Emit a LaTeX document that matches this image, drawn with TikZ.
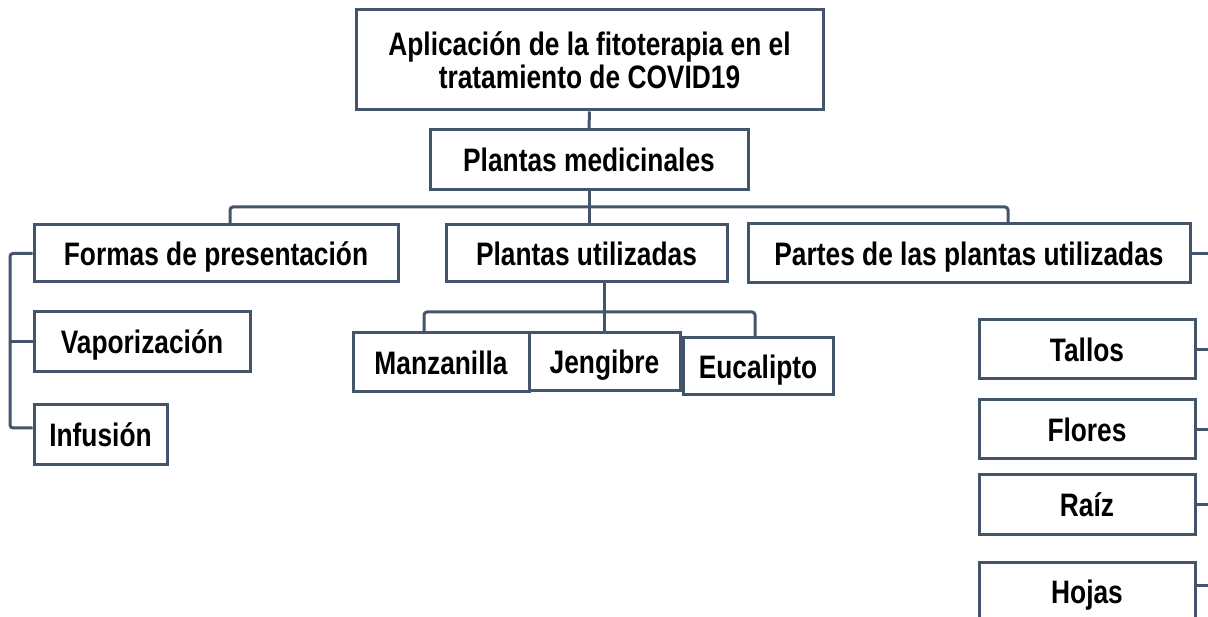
\documentclass[tikz,border=0pt]{standalone}
\usepackage{fontspec}
\setmainfont[FakeStretch=0.81]{Liberation Sans}
\definecolor{edge}{RGB}{68,84,106}
\tikzset{
  box/.style={draw=edge, line width=3pt, fill=white, rectangle, inner sep=0pt,
    font=\fontsize{32.5}{32.5}\selectfont\bfseries, text=black, align=center},
  sbox/.style={box, text height=23.3pt, text depth=0pt},
  conn/.style={draw=edge, line width=3pt, rounded corners=3pt}
}
\begin{document}
\begin{tikzpicture}[x=1pt,y=-1pt]
\clip (0,0) rectangle (1208,617);
\fill[white] (0,0) rectangle (1208,617);
% boxes (centre, width, height in px)
\node[box, minimum width=467pt, minimum height=100pt] (top) at (589.5,60) {Aplicación de la fitoterapia en el\\tratamiento de COVID19};
\node[sbox, minimum width=318pt, minimum height=60pt] (pm) at (589,160) {Plantas medicinales};
\node[sbox, minimum width=364pt, minimum height=57pt] (fp) at (216,253.5) {Formas de presentación};
\node[sbox, minimum width=281pt, minimum height=57pt] (pu) at (586.5,253.5) {Plantas utilizadas};
\node[sbox, minimum width=442pt, minimum height=59pt] (pp) at (969,253.5) {Partes de las plantas utilizadas};
\node[sbox, minimum width=216pt, minimum height=60pt] (vap) at (142,342) {Vaporización};
\node[sbox, minimum width=133pt, minimum height=60pt] (inf) at (100.5,435) {Infusión};
\node[sbox, minimum width=176pt, minimum height=59pt] (man) at (441,362.5) {Manzanilla};
\node[sbox, minimum width=151pt, minimum height=58pt] (jen) at (604.5,362) {Jengibre};
\node[sbox, minimum width=150pt, minimum height=57pt] (euc) at (758,366.5) {Eucalipto};
\node[sbox, minimum width=216pt, minimum height=59pt] (tal) at (1087,349.5) {Tallos};
\node[sbox, minimum width=216pt, minimum height=59pt] (flo) at (1087,429.5) {Flores};
\node[sbox, minimum width=216pt, minimum height=59pt] (rai) at (1087,504.5) {Raíz};
\node[sbox, minimum width=216pt, minimum height=60pt] (hoj) at (1087,592) {Hojas};
% junction coordinates
\coordinate (jL) at (230,207);
\coordinate (jR) at (1008,207);
\coordinate (kL) at (424,312);
\coordinate (kR) at (755,312);
\coordinate (lb) at (10,0);
\coordinate (rb) at (1210,0);
% connectors
\draw[conn] (top.south) -- (pm.north);
\draw[conn] (pm.south) -- (pm.south |- pu.north);
\draw[conn] (fp.north -| jL) -- (jL) -- (jR) -- (pp.north -| jR);
\draw[conn] (pu.south -| jen.north) -- (jen.north);
\draw[conn] (man.north -| kL) -- (kL) -- (kR) -- (euc.north -| kR);
\draw[conn] (fp.west) -- (fp.west -| lb) -- ([yshift=7pt]inf.west -| lb) -- ([yshift=7pt]inf.west);
\draw[conn] (vap.west -| lb) -- (vap.west);
\draw[conn] (pp.east) -- (pp.east -| rb);
\draw[conn] (tal.east) -- (tal.east -| rb);
\draw[conn] (flo.east) -- (flo.east -| rb);
\draw[conn] (rai.east) -- (rai.east -| rb);
\draw[conn] ([yshift=7pt]hoj.east) -- ([yshift=7pt]hoj.east -| rb);
\end{tikzpicture}
\end{document}
